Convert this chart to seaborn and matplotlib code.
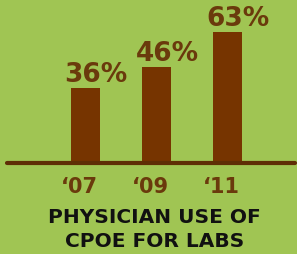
import pandas as pd
import seaborn as sns
import matplotlib.pyplot as plt
from matplotlib.transforms import ScaledTranslation

years = ["\u201807", "\u201809", "\u201811"]
share = [36, 46, 63]

GREEN = "#A0C553"
BROWN = "#763400"
DARK = "#5E2E05"
TEXT = "#6A3A0C"

df = pd.DataFrame({"Year": years, "Share": share})

sns.set_theme(style="white")
plt.rcParams["font.family"] = ["DejaVu Sans"]

fig = plt.figure(figsize=(2.97, 2.54), dpi=100, facecolor=GREEN)
ax = fig.add_axes([0.024, 0.358, 0.97, 0.577])
ax.set_facecolor(GREEN)

sns.barplot(data=df, x="Year", y="Share", color=BROWN, width=0.41,
            saturation=1, linewidth=0, ax=ax)

ax.set_xlim(-1.10, 2.96)
ax.set_ylim(0, 70.5)
ax.set_xlabel("")
ax.set_ylabel("")
ax.set_yticks([])
for s in ["top", "right", "left"]:
    ax.spines[s].set_visible(False)
ax.spines["bottom"].set_color(DARK)
ax.spines["bottom"].set_linewidth(3)
ax.spines["bottom"].set_capstyle("round")
ax.tick_params(axis="x", length=0, pad=10, labelsize=15, labelcolor=TEXT)
shift = ScaledTranslation(-4 / 72, 0, fig.dpi_scale_trans)
for t in ax.get_xticklabels():
    t.set_fontweight("bold")
    t.set_transform(t.get_transform() + shift)

for i, v in enumerate(share):
    ax.annotate(f"{v}%", (i, v), xytext=(8, 4.5), textcoords="offset points",
                ha="center", va="baseline", fontsize=19, fontweight="bold",
                color=TEXT)

fig.text(0.52, 0.096, "PHYSICIAN USE OF\nCPOE FOR LABS", ha="center",
         va="center", fontsize=14.5, fontweight="bold", color="#111111",
         linespacing=1.35)

fig.savefig("out.png", dpi=100, facecolor=GREEN)
